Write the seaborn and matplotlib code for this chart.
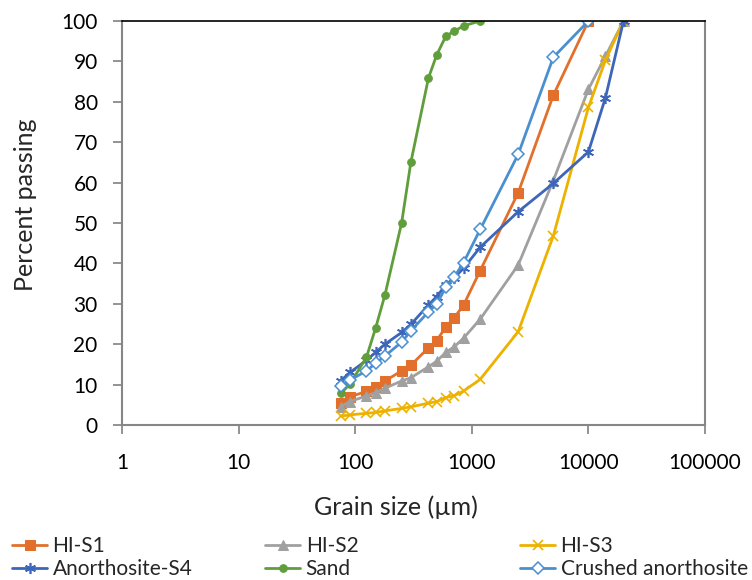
import matplotlib
matplotlib.use("Agg")
import matplotlib.pyplot as plt
import seaborn as sns
import pandas as pd

# sieve sizes (um)
sizes_fine = [75, 90, 125, 150, 180, 250, 300, 425, 500, 600, 710, 850, 1180]
sizes_hi = sizes_fine + [2500, 5000, 10000, 14000, 20000]
sizes_s1 = sizes_fine + [2500, 5000, 10000]
sizes_crushed = sizes_fine + [2500, 5000, 10000]

hi_s1 = [5.4, 7.0, 8.3, 9.5, 10.9, 13.4, 14.8, 19.1, 20.9, 24.3, 26.6, 29.7, 38.2,
         57.5, 81.6, 100]
hi_s2 = [4.5, 5.8, 7.2, 8.0, 9.1, 10.9, 11.7, 14.4, 15.8, 18.0, 19.4, 21.5, 26.2,
         39.6, 60.5, 83.1, 91.3, 100]
hi_s3 = [2.2, 2.5, 2.9, 3.1, 3.5, 4.1, 4.5, 5.4, 5.8, 6.8, 7.3, 8.4, 11.3,
         23.1, 46.8, 78.6, 90.3, 100]
anor_s4 = [10.9, 13.0, 16.0, 18.0, 20.0, 22.9, 24.9, 29.7, 31.8, 34.7, 36.5, 38.8, 44.0,
           52.8, 59.8, 67.6, 81.0, 100]
sand = [7.8, 10.1, 16.8, 24.1, 32.2, 50.0, 65.0, 85.9, 91.6, 96.3, 97.5, 98.8, 100]
crushed = [9.7, 11.1, 13.4, 15.3, 17.1, 20.5, 23.3, 28.0, 30.0, 34.1, 36.7, 40.2, 48.4,
           67.0, 91.0, 100]

x_ticks = [1, 10, 100, 1000, 10000, 100000]
y_ticks = list(range(0, 101, 10))

sns.set_theme(style="white")
plt.rcParams["font.family"] = ["Lato", "DejaVu Sans"]

fig = plt.figure(figsize=(7.52, 5.8), dpi=100)
ax = fig.add_axes([122 / 752, 1 - 425 / 580, 583 / 752, 404 / 580])

series = [
    ("HI-S1", sizes_s1, hi_s1, "#E2702C", dict(marker="s", markersize=7)),
    ("HI-S2", sizes_hi, hi_s2, "#A0A0A0", dict(marker="^", markersize=7)),
    ("HI-S3", sizes_hi, hi_s3, "#EDB100", dict(marker="x", markersize=7, markeredgewidth=1.2)),
    ("Anorthosite-S4", sizes_hi, anor_s4, "#3E66B8",
     dict(marker=(6, 2, 0), markersize=8, markeredgewidth=1.2)),
    ("Sand", sizes_fine, sand, "#5F9E3A", dict(marker="o", markersize=5.5)),
    ("Crushed anorthosite", sizes_crushed, crushed, "#4A8FCF",
     dict(marker="D", markersize=6.5, markerfacecolor="white", markeredgewidth=1.1)),
]

for name, xs, ys, col, mk in series:
    df = pd.DataFrame({"size": xs, "pct": ys})
    opts = dict(markeredgecolor=col)
    opts.update(mk)
    sns.lineplot(data=df, x="size", y="pct", ax=ax, color=col, linewidth=2,
                 label=name, **opts)

ax.set_xscale("log")
ax.set_xlim(1, 100000)
ax.set_ylim(0, 100)
ax.set_xticks(x_ticks)
ax.set_xticklabels([str(v) for v in x_ticks])
ax.xaxis.set_minor_locator(matplotlib.ticker.NullLocator())
ax.set_yticks(y_ticks)

ax.tick_params(axis="both", which="major", labelsize=15, colors="#808080",
               labelcolor="black", direction="out", length=6.5, width=1.2)
ax.tick_params(axis="y", pad=11)
ax.tick_params(axis="x", pad=14)
ax.tick_params(left=True, bottom=True)

for side in ["left", "bottom", "right"]:
    ax.spines[side].set_color("#868686")
    ax.spines[side].set_linewidth(1.5)
ax.spines["top"].set_color("black")
ax.spines["top"].set_linewidth(1.2)

ax.set_xlabel("Grain size (µm)", fontsize=18)
ax.set_ylabel("Percent passing", fontsize=18)
ax.xaxis.set_label_coords(0.47, -0.203)
ax.xaxis.label.set_va("center")
ax.yaxis.set_label_coords(-0.166, 0.545)
ax.yaxis.label.set_va("center")

handles, labels = ax.get_legend_handles_labels()
ax.get_legend().remove()
cols = [(0, 3, 12), (1, 4, 265), (2, 5, 520)]
for i, j, px in cols:
    fig.legend([handles[i], handles[j]], [labels[i], labels[j]],
               loc="center left", bbox_to_anchor=(px / 752, 1 - 557.5 / 580),
               frameon=False, fontsize=15, handlelength=1.7, handletextpad=0.25,
               labelspacing=0.15, borderpad=0, borderaxespad=0, numpoints=1)

fig.savefig("out.png", dpi=100)
